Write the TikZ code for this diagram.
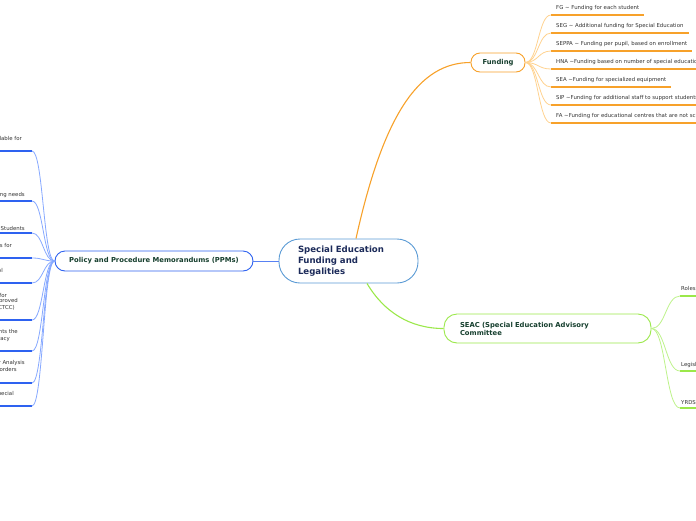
\documentclass[tikz,border=0pt]{standalone}
\usepackage{fontspec}
\setmainfont{DejaVu Sans}
\usetikzlibrary{calc}
\definecolor{cborder}{HTML}{5B9BD5}
\definecolor{ctext}{HTML}{1C2B5A}
\definecolor{ntext}{HTML}{163F2E}
\definecolor{orng}{HTML}{F7A12A}
\definecolor{orngL}{HTML}{FFD28F}
\definecolor{blu}{HTML}{2E62F0}
\definecolor{bluL}{HTML}{86A8FF}
\definecolor{grn}{HTML}{9BE84A}
\definecolor{grnL}{HTML}{BDF28A}
\definecolor{leafgray}{HTML}{333333}
\begin{document}
\begin{tikzpicture}[x=1pt,y=-1pt,
  central/.style={draw=cborder, line width=0.9pt, fill=white, rounded corners=21pt,
    minimum width=139pt, minimum height=44pt, text width=101pt, inner xsep=19pt,
    align=left, text=ctext, font=\bfseries\fontsize{8.6}{11}\selectfont},
  topic/.style={draw, line width=0.9pt, fill=white, text=ntext,
    font=\bfseries\fontsize{6.8}{8}\selectfont},
  leaf/.style={font=\fontsize{5.4}{6.5}\selectfont, text=leafgray, inner sep=0pt},
  fline/.style={draw=orng, line width=1.8pt},
  pline/.style={draw=blu, line width=1.8pt},
  gline/.style={draw=grn, line width=1.8pt},
  sc/.style={to path={let \p1=(\tikztostart), \p2=(\tikztotarget) in
    .. controls ({0.5*\x1+0.5*\x2},\y1) and ({0.5*\x1+0.5*\x2},\y2) .. (\tikztotarget)}}
]
\useasboundingbox (0,0) rectangle (696,520);

% central
\node[central] (c) at (348.5,261) {Special Education\\Funding and\\Legalities};

% main topics
\node[topic, draw=orng, rounded corners=9pt, minimum width=54pt, minimum height=19pt] (fund) at (498,62.5) {Funding};
\node[topic, draw=blu, rounded corners=10pt, minimum width=198pt, minimum height=20pt] (ppm) at (154,261) {Policy and Procedure Memorandums (PPMs)};
\node[topic, draw=grn, rounded corners=13pt, minimum width=207pt, minimum height=29pt,
  text width=175pt, inner xsep=16pt, align=left] (seac) at (547.5,328.5) {SEAC (Special Education Advisory\\Committee};

% main connectors
\draw[orng, line width=1.1pt] ($(c.north)+(7.5,0)$) .. controls (384,112) and (420,62.5) .. (fund.west);
\draw[blu!80, line width=0.9pt] (c.west) -- (ppm.east);
\draw[grn, line width=1.1pt] ($(c.south)+(18.5,0)$) .. controls (384,312) and (410,328.5) .. (seac.west);

% funding leaves
\node[leaf, anchor=west] (f1) at (556,8) {FG \textasciitilde{} Funding for each student};
\node[leaf, anchor=west] (f2) at (556,26) {SEG \textasciitilde{} Additional funding for Special Education};
\node[leaf, anchor=west] (f3) at (556,44) {SEPPA \textasciitilde{} Funding per pupil, based on enrollment};
\node[leaf, anchor=west] (f4) at (556,62) {HNA \textasciitilde Funding based on number of special education students};
\node[leaf, anchor=west] (f5) at (556,80) {SEA \textasciitilde Funding for specialized equipment};
\node[leaf, anchor=west] (f6) at (556,98) {SIP \textasciitilde Funding for additional staff to support students};
\node[leaf, anchor=west] (f7) at (556,116) {FA \textasciitilde Funding for educational centres that are not school boards};
\foreach \i/\ly in {1/15,2/33,3/51,4/69,5/87,6/105,7/123}{
  \coordinate (fs\i) at (551,\ly);
  \draw[fline] (fs\i) -- ($(fs\i -| f\i.east)+(5,0)$);
  \draw[orngL, line width=0.8pt] (fund.east) to[sc] (fs\i);
}

% PPM leaves (left side, partly off the page)
\node[leaf, anchor=east] (p1a) at (22,139) {Funding is available for};
\node[leaf, anchor=east] (p2a) at (25,195) {learning needs};
\node[leaf, anchor=east] (p3a) at (25,228) {Students};
\node[leaf, anchor=east] (p4a) at (12,246) {programs for};
\node[leaf, anchor=east] (p5a) at (3,270) {School};
\node[leaf, anchor=east] (p6a) at (7,295) {for};
\node[leaf, anchor=east] (p6b) at (18,301) {approved};
\node[leaf, anchor=east] (p6c) at (15,308) {(CTCC)};
\node[leaf, anchor=east] (p7a) at (18,332) {implements the};
\node[leaf, anchor=east] (p7b) at (10,339) {Literacy};
\node[leaf, anchor=east] (p8a) at (25,363) {Behaviour Analysis};
\node[leaf, anchor=east] (p8b) at (17,370) {Spectrum Disorders};
\node[leaf, anchor=east] (p9a) at (14,394) {Special};
\foreach \i/\ly in {1/151,2/201,3/233,4/258,5/283,6/320,7/351,8/383,9/406}{
  \coordinate (ps\i) at (32,\ly);
  \draw[pline] (ps\i) -- ++(-60,0);
  \draw[bluL, line width=0.8pt] (ppm.west) to[sc] (ps\i);
}

% SEAC leaves
\node[leaf, anchor=west] (s1) at (681,289) {Roles and Responsibilities};
\node[leaf, anchor=west] (s2) at (681,365) {Legislation};
\node[leaf, anchor=west] (s3) at (681,403) {YRDSB};
\foreach \i/\ly in {1/296,2/371,3/408}{
  \coordinate (ss\i) at (680,\ly);
  \draw[gline] (ss\i) -- ++(60,0);
  \draw[grnL, line width=0.8pt] (seac.east) to[sc] (ss\i);
}
\end{tikzpicture}
\end{document}
